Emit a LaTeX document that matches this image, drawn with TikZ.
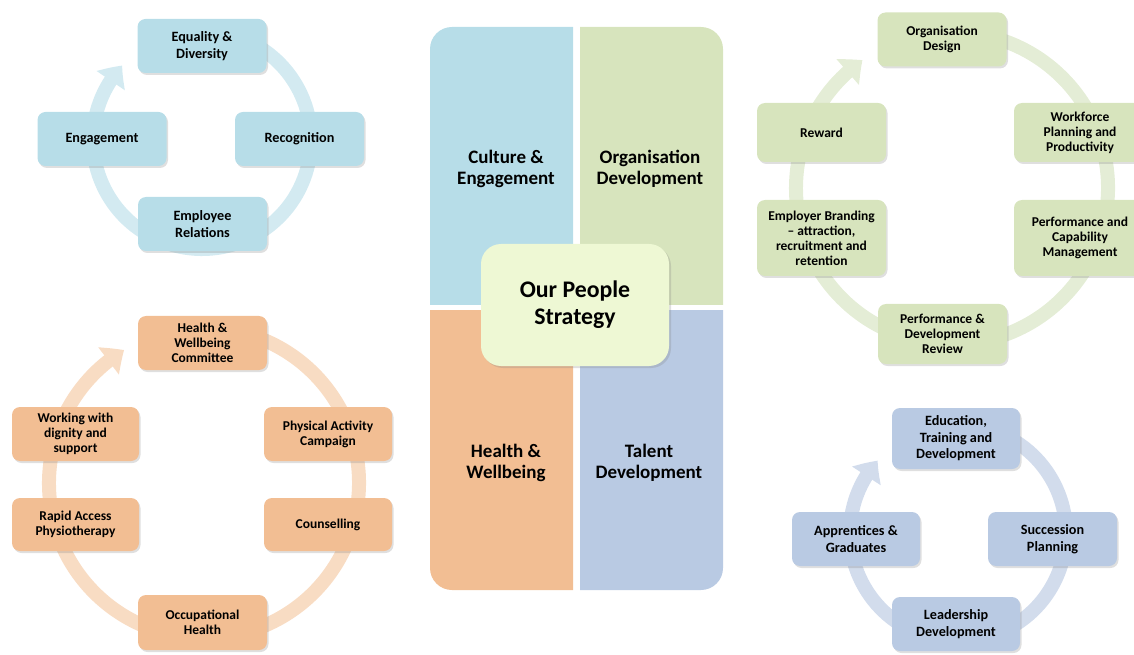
\documentclass[tikz,border=0pt]{standalone}
\usepackage{fontspec}
\setmainfont{Carlito}
\usetikzlibrary{arrows.meta,bending,shadows}
\definecolor{cblue}{HTML}{B7DDE8}
\definecolor{cgreen}{HTML}{D7E4BD}
\definecolor{corange}{HTML}{F2BE93}
\definecolor{cgrey}{HTML}{B9CAE3}
\definecolor{ccenter}{HTML}{EEF8D4}
\definecolor{rblue}{HTML}{D3EAF1}
\definecolor{rgreen}{HTML}{E4EDD6}
\definecolor{rorange}{HTML}{F8DCC3}
\definecolor{rgrey}{HTML}{D2DCEC}
\tikzset{
  cbox/.style={rounded corners=8pt, minimum width=129pt, minimum height=54pt, align=center,
    font=\bfseries\fontsize{13.5}{15}\selectfont, inner sep=2pt,
    drop shadow={opacity=0.25,shadow xshift=1.5pt,shadow yshift=-2pt}},
  bigbox/.style={cbox, font=\bfseries\fontsize{14.2}{16.5}\selectfont},
  ringarc/.style={line width=14pt, -{Triangle[width=33pt,length=19pt,bend]}},
  qtext/.style={align=center, font=\bfseries\fontsize{19}{21}\selectfont},
}
\begin{document}
\begin{tikzpicture}[x=1pt,y=1pt]
\useasboundingbox (0,0) rectangle (1134,654);

% ---------- centre panel ----------
\begin{scope}
\clip (430,349) rectangle (573,627);
\fill[cblue, rounded corners=22pt] (430,64) rectangle (723,627);
\end{scope}
\begin{scope}
\clip (580,349) rectangle (723,627);
\fill[cgreen, rounded corners=22pt] (430,64) rectangle (723,627);
\end{scope}
\begin{scope}
\clip (430,64) rectangle (573,343);
\fill[corange, rounded corners=22pt] (430,64) rectangle (723,627);
\end{scope}
\begin{scope}
\clip (580,64) rectangle (723,343);
\fill[cgrey, rounded corners=22pt] (430,64) rectangle (723,627);
\end{scope}
\node[qtext] (q1) at (506,485) {Culture \&\\Engagement};
\node[qtext] (q2) at (650,485) {Organisation\\Development};
\node[qtext] (q3) at (506,191) {Health \&\\Wellbeing};
\node[qtext] (q4) at (649,191) {Talent\\Development};
\node[fill=ccenter, rounded corners=20pt, minimum width=188pt, minimum height=122pt,
  align=center, font=\bfseries\fontsize{23.8}{27}\selectfont,
  drop shadow={opacity=0.25,shadow xshift=2pt,shadow yshift=-2pt}] (ops) at (575,349) {Our People\\Strategy};

% ---------- top-left cycle ----------
\coordinate (c1) at (202,514);
\draw[ringarc, rblue] (c1) ++(75:109) arc[start angle=75, end angle=-223, radius=109];
\node[bigbox, fill=cblue] (eqd) at (202,608) {Equality \&\\Diversity};
\node[bigbox, fill=cblue] (eng) at (102,515) {Engagement};
\node[bigbox, fill=cblue] (rec) at (299.5,515) {Recognition};
\node[bigbox, fill=cblue] (emp) at (202.5,430) {Employee\\Relations};

% ---------- bottom-left cycle ----------
\coordinate (c2) at (204,171);
\draw[ringarc, rorange] (c2) ++(80:155) arc[start angle=80, end angle=-239, radius=155];
\node[cbox, fill=corange] (hwc) at (202.5,311) {Health \&\\Wellbeing\\Committee};
\node[cbox, fill=corange, minimum width=128pt] (pac) at (328,220) {Physical Activity\\Campaign};
\node[cbox, fill=corange, minimum width=128pt, minimum height=53pt] (cou) at (328,129.5) {Counselling};
\node[cbox, fill=corange, minimum height=55pt] (occ) at (202.5,31.5) {Occupational\\Health};
\node[cbox, fill=corange, minimum width=127pt, minimum height=53pt] (rap) at (75.5,129.5) {Rapid Access\\Physiotherapy};
\node[cbox, fill=corange, minimum width=127pt] (wwd) at (75.5,220) {Working with\\dignity and\\support};

% ---------- top-right cycle ----------
\coordinate (c3) at (952,466);
\draw[ringarc, rgreen] (c3) ++(80:156) arc[start angle=80, end angle=-235, radius=156];
\node[cbox, fill=cgreen] (od) at (942,614.5) {Organisation\\Design};
\node[cbox, fill=cgreen, minimum width=132pt, minimum height=59pt] (wpp) at (1080,521.5) {Workforce\\Planning and\\Productivity};
\node[cbox, fill=cgreen, minimum width=132pt, minimum height=76pt] (pcm) at (1080,416) {Performance and\\Capability\\Management};
\node[cbox, fill=cgreen, minimum height=60pt] (pdr) at (942.5,320) {Performance \&\\Development\\Review};
\node[cbox, fill=cgreen, minimum height=76pt] (ebr) at (821.5,416) {Employer Branding\\– attraction,\\recruitment and\\retention};
\node[cbox, fill=cgreen, minimum height=59pt] (rew) at (821.5,521.5) {Reward};

% ---------- bottom-right cycle ----------
\coordinate (c4) at (958,121);
\draw[ringarc, rgrey] (c4) ++(75:108) arc[start angle=75, end angle=-222, radius=108];
\node[bigbox, fill=cgrey, minimum width=128pt, minimum height=61pt] (etd) at (956,215.5) {Education,\\Training and\\Development};
\node[bigbox, fill=cgrey] (spl) at (1052.5,115) {Succession\\Planning};
\node[bigbox, fill=cgrey, minimum width=128pt] (led) at (956,30) {Leadership\\Development};
\node[bigbox, fill=cgrey, minimum width=128pt] (apg) at (856,115) {Apprentices \&\\Graduates};
\end{tikzpicture}
\end{document}
